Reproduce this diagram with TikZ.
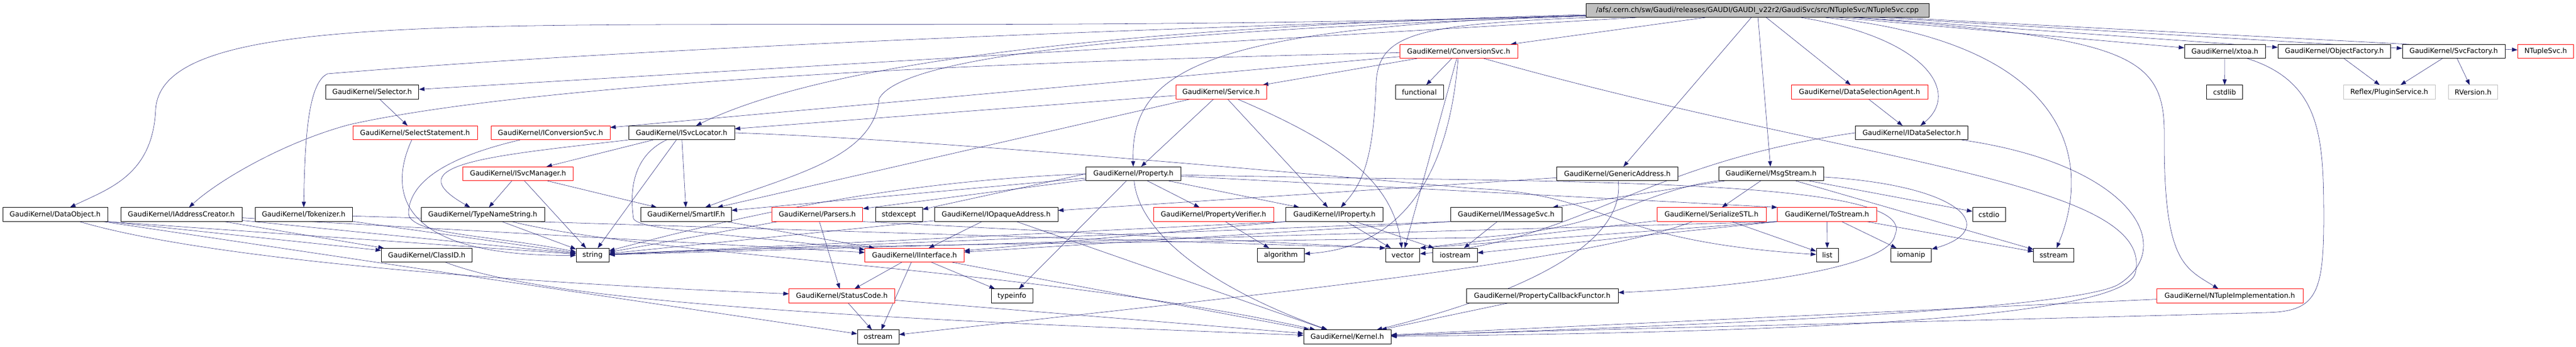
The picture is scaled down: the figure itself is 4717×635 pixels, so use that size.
\documentclass[tikz,border=0pt]{standalone}
\usepackage{fontspec}
\setmainfont{DejaVu Sans}
\usetikzlibrary{arrows.meta, backgrounds}
\definecolor{edgeblue}{HTML}{191970}
\definecolor{truncred}{HTML}{FF0000}
\definecolor{extgray}{HTML}{BFBFBF}
\tikzset{
	every node/.style={
		font=\fontsize{9.6}{11}\selectfont
	},
	header/.style={
		shape=rectangle,
		minimum height=19pt,
		inner sep=0pt,
		text centered,
		fill=white,
		draw=black
	},
	truncated/.style={
		header,
		draw=truncred
	},
	external/.style={
		header,
		draw=extgray
	},
	source/.style={
		header,
		fill=extgray
	},
	dep/.style={
		->,
		color=edgeblue
	}
}

\begin{document}
\begin{tikzpicture}[>={Triangle[length=7.5pt,width=5.5pt]},x=0.75pt,y=-0.75pt,semithick]
  \useasboundingbox (0,0) rectangle (4717,635);

  % the file itself
  \node[source, minimum width=471pt]      (R)         at (3218,19)      {/afs/.cern.ch/sw/Gaudi/releases/GAUDI/GAUDI\_v22r2/GaudiSvc/src/NTupleSvc/NTupleSvc.cpp};

  % row 1
  \node[truncated, minimum width=162pt]   (CSvc)      at (2671,94)      {GaudiKernel/ConversionSvc.h};
  \node[header, minimum width=111pt]      (xtoa)      at (4074,94)      {GaudiKernel/xtoa.h};
  \node[header, minimum width=155pt]      (OFac)      at (4274.5,94)    {GaudiKernel/ObjectFactory.h};
  \node[header, minimum width=141pt]      (SFac)      at (4493,94)      {GaudiKernel/SvcFactory.h};
  \node[truncated, minimum width=77pt]    (NSvc)      at (4661.5,94)    {NTupleSvc.h};

  % row 2
  \node[header, minimum width=128pt]      (Sel)       at (681.5,168.5)  {GaudiKernel/Selector.h};
  \node[truncated, minimum width=124.5pt] (Svc)       at (2236,168.5)   {GaudiKernel/Service.h};
  \node[header, minimum width=66pt]       (func)      at (2599,168.5)   {functional};
  \node[truncated, minimum width=187.5pt] (DSA)       at (3405,168.5)   {GaudiKernel/DataSelectionAgent.h};
  \node[header, minimum width=49pt]       (cstdlib)   at (4073.5,168.5) {cstdlib};
  \node[external, minimum width=126pt]    (Plug)      at (4375,168.5)   {Reflex/PluginService.h};
  \node[external, minimum width=68pt]     (RVer)      at (4528.5,168.5) {RVersion.h};

  % row 3
  \node[truncated, minimum width=171pt]   (SelSt)     at (760,243)      {GaudiKernel/SelectStatement.h};
  \node[truncated, minimum width=163.5pt] (ICS)       at (1008,243)     {GaudiKernel/IConversionSvc.h};
  \node[header, minimum width=145.5pt]    (ISL)       at (1248,243)     {GaudiKernel/ISvcLocator.h};
  \node[header, minimum width=155pt]      (IDS)       at (3500.5,243)   {GaudiKernel/IDataSelector.h};

  % row 4
  \node[truncated, minimum width=152pt]   (ISM)       at (948.5,318)    {GaudiKernel/ISvcManager.h};
  \node[header, minimum width=130pt]      (Prop)      at (2075.5,318)   {GaudiKernel/Property.h};
  \node[header, minimum width=166pt]      (GenA)      at (2961.5,318)   {GaudiKernel/GenericAddress.h};
  \node[header, minimum width=144pt]      (Msg)       at (3243,318)     {GaudiKernel/MsgStream.h};

  % row 5
  \node[header, minimum width=144pt]      (DO)        at (101,392.5)    {GaudiKernel/DataObject.h};
  \node[header, minimum width=166.5pt]    (IAC)       at (332,392.5)    {GaudiKernel/IAddressCreator.h};
  \node[header, minimum width=133.5pt]    (Tok)       at (556,392.5)    {GaudiKernel/Tokenizer.h};
  \node[header, minimum width=169.5pt]    (TNS)       at (884,392.5)    {GaudiKernel/TypeNameString.h};
  \node[header, minimum width=124pt]      (SIF)       at (1256.5,392.5) {GaudiKernel/SmartIF.h};
  \node[truncated, minimum width=125pt]   (Pars)      at (1496.5,392.5) {GaudiKernel/Parsers.h};
  \node[header, minimum width=64.5pt]     (stdexcept) at (1646,392.5)   {stdexcept};
  \node[header, minimum width=169.5pt]    (IOA)       at (1824,392.5)   {GaudiKernel/IOpaqueAddress.h};
  \node[truncated, minimum width=165pt]   (PV)        at (2222,392.5)   {GaudiKernel/PropertyVerifier.h};
  \node[header, minimum width=133pt]      (IProp)     at (2443.5,392.5) {GaudiKernel/IProperty.h};
  \node[header, minimum width=153pt]      (IMS)       at (2758,392.5)   {GaudiKernel/IMessageSvc.h};
  \node[truncated, minimum width=150pt]   (SSTL)      at (3134,392.5)   {GaudiKernel/SerializeSTL.h};
  \node[truncated, minimum width=136pt]   (ToS)       at (3345.5,392.5) {GaudiKernel/ToStream.h};
  \node[header, minimum width=45pt]       (cstdio)    at (3642,392.5)   {cstdio};

  % row 6
  \node[header, minimum width=125pt]      (CID)       at (781.5,467)    {GaudiKernel/ClassID.h};
  \node[header, minimum width=45pt]       (string)    at (1085,467)     {string};
  \node[truncated, minimum width=136pt]   (II)        at (1674.5,467)   {GaudiKernel/IInterface.h};
  \node[header, minimum width=64pt]       (algorithm) at (2345.5,467)   {algorithm};
  \node[header, minimum width=47pt]       (vector)    at (2568.5,467)   {vector};
  \node[header, minimum width=61pt]       (iostream)  at (2664.5,467)   {iostream};
  \node[header, minimum width=30pt]       (list)      at (3346,467)     {list};
  \node[header, minimum width=56pt]       (iomanip)   at (3499.5,467)   {iomanip};
  \node[header, minimum width=55pt]       (sstream)   at (3760.5,467)   {sstream};

  % row 7
  \node[truncated, minimum width=145pt]   (SC)        at (1541.5,541.5) {GaudiKernel/StatusCode.h};
  \node[header, minimum width=57pt]       (typeinfo)  at (1853,541.5)   {typeinfo};
  \node[header, minimum width=208.5pt]    (PCF)       at (2824,541.5)   {GaudiKernel/PropertyCallbackFunctor.h};
  \node[truncated, minimum width=201pt]   (NTI)       at (4083,541.5)   {GaudiKernel/NTupleImplementation.h};

  % row 8
  \node[header, minimum width=57pt]       (ostream)   at (1608,616.5)   {ostream};
  \node[header, minimum width=120pt]      (Kern)      at (2467,616.5)   {GaudiKernel/Kernel.h};

  \begin{scope}[on background layer]
  % includes of the source file
  \path[dep] (R) edge (CSvc) edge (GenA) edge (Msg) edge (DSA) edge (Sel)
                 edge (xtoa) edge (OFac) edge (SFac) edge (NSvc);
  \draw[dep] (R) .. controls (1200,80) and (300,-30) .. (285,200) .. controls (280,320) and (200,345) .. (DO);
  \draw[dep] (R) .. controls (1500,70) and (900,110) .. (600,135) .. controls (565,150) and (558,250) .. (Tok);
  \draw[dep] (R) .. controls (2000,50) and (1500,120) .. (ISL);
  \draw[dep] (R) .. controls (2000,60) and (1650,110) .. (1610,180) .. controls (1600,290) and (1450,320) .. (SIF);
  \draw[dep] (R) .. controls (2200,50) and (2070,130) .. (Prop);
  \draw[dep] (R) .. controls (2600,45) and (2525,60) .. (2520,150) .. controls (2515,280) and (2500,330) .. (IProp);
  \draw[dep] (R) .. controls (3530,70) and (3590,170) .. (IDS);
  \draw[dep] (R) .. controls (3800,80) and (3830,300) .. (sstream);
  \draw[dep] (R) .. controls (3900,70) and (3965,100) .. (3963,250) .. controls (3962,480) and (4000,490) .. (NTI);

  % row 1
  \path[dep] (CSvc) edge (func) edge (Svc) edge (ICS) edge (vector);
  \draw[dep] (CSvc) .. controls (1500,120) and (900,170) .. (640,228) .. controls (520,260) and (400,330) .. (IAC);
  \draw[dep] (CSvc) .. controls (2660,230) and (2620,450) .. (algorithm);
  \draw[dep] (CSvc) .. controls (3400,300) and (3950,330) .. (3910,500) .. controls (3880,600) and (3000,610) .. (Kern);
  \path[dep] (xtoa) edge (cstdlib);
  \draw[dep] (xtoa) .. controls (4250,150) and (4255,250) .. (4255,400) .. controls (4255,540) and (4240,570) .. (4150,572) .. controls (3500,590) and (3000,600) .. (Kern);
  \path[dep] (OFac) edge (Plug);
  \path[dep] (SFac) edge (Plug) edge (RVer);

  % row 2
  \path[dep] (Sel) edge (SelSt);
  \path[dep] (Svc) edge (ISL) edge (Prop) edge (SIF) edge (IProp);
  \draw[dep] (Svc) .. controls (2450,260) and (2550,330) .. (vector);
  \path[dep] (DSA) edge (IDS);

  % row 3
  \draw[dep] (SelSt) .. controls (720,330) and (700,470) .. (string);
  \draw[dep] (ICS) .. controls (850,280) and (750,320) .. (748,390) .. controls (750,430) and (900,430) .. (string);
  \path[dep] (ISL) edge (ISM) edge (SIF) edge (string);
  \draw[dep] (ISL.south west) .. controls (900,285) and (720,300) .. (TNS);
  \draw[dep] (ISL) .. controls (1170,280) and (1150,330) .. (1160,400) .. controls (1170,420) and (1300,425) .. (II);
  \draw[dep] (ISL.east) .. controls (1700,255) and (2300,310) .. (2700,345) .. controls (2950,355) and (2930,440) .. (list);
  \draw[dep] (IDS.west) .. controls (3000,300) and (2900,440) .. (vector);
  \draw[dep] (IDS) .. controls (3900,300) and (3990,450) .. (3880,520) .. controls (3800,570) and (3000,600) .. (Kern);

  % row 4
  \path[dep] (ISM) edge (TNS) edge (string) edge (SIF);
  \path[dep] (Prop) edge (typeinfo) edge (PV) edge (Pars) edge (SIF) edge (IProp) edge (ToS.north west);
  \path[dep] (Prop.west) edge (stdexcept);
  \draw[dep] (Prop.west) .. controls (1700,330) and (1450,370) .. (string);
  \draw[dep] (Prop) .. controls (2085,420) and (2200,520) .. (Kern);
  \draw[dep] (Prop) .. controls (2800,335) and (3520,320) .. (3470,430) .. controls (3460,490) and (3200,525) .. (PCF);
  \path[dep] (GenA) edge (IOA);
  \draw[dep] (GenA) .. controls (2980,470) and (2700,560) .. (Kern);
  \path[dep] (Msg) edge (IMS) edge (SSTL) edge (cstdio) edge (sstream);
  \draw[dep] (Msg) .. controls (3600,340) and (3660,420) .. (iomanip);
  \draw[dep] (Msg) .. controls (3000,350) and (2950,420) .. (2700,435) .. controls (2000,445) and (1400,450) .. (string);

  % row 5
  \path[dep] (DO) edge (ostream);
  \path[dep] (DO.south east) edge (string) edge (CID);
  \draw[dep] (DO) .. controls (400,480) and (1000,520) .. (SC);
  \path[dep] (IAC) edge (CID) edge (string) edge (II);
  \path[dep] (Tok) edge (string) edge (vector.north west);
  \path[dep] (TNS) edge (string);
  \draw[dep] (TNS) .. controls (1200,470) and (1900,490) .. (Kern);
  \path[dep] (SIF) edge (II);
  \path[dep] (Pars) edge (SC) edge (string);
  \path[dep] (Pars.south east) edge (vector.north west);
  \path[dep] (IOA) edge (II) edge (string) edge (Kern);
  \path[dep] (PV) edge (algorithm);
  \path[dep] (IProp) edge (vector) edge (iostream);
  \path[dep] (IProp.south west) edge (string) edge (II);
  \path[dep] (IMS) edge (iostream);
  \path[dep] (IMS.south west) edge (string) edge (II);
  \path[dep] (SSTL) edge (list) edge (vector.north east);
  \draw[dep] (SSTL) .. controls (2900,480) and (2300,540) .. (ostream);
  \path[dep] (ToS) edge (list) edge (iomanip) edge (sstream);
  \path[dep] (ToS.south west) edge (string) edge (vector.north east) edge (iostream);

  % rows 6 and 7
  \draw[dep] (CID) .. controls (1000,550) and (1500,580) .. (Kern);
  \path[dep] (II) edge (SC) edge (ostream) edge (typeinfo) edge (Kern);
  \path[dep] (SC) edge (ostream) edge (Kern);
  \path[dep] (PCF) edge (Kern);
  \path[dep] (NTI) edge (Kern);
  \end{scope}
\end{tikzpicture}
\end{document}
